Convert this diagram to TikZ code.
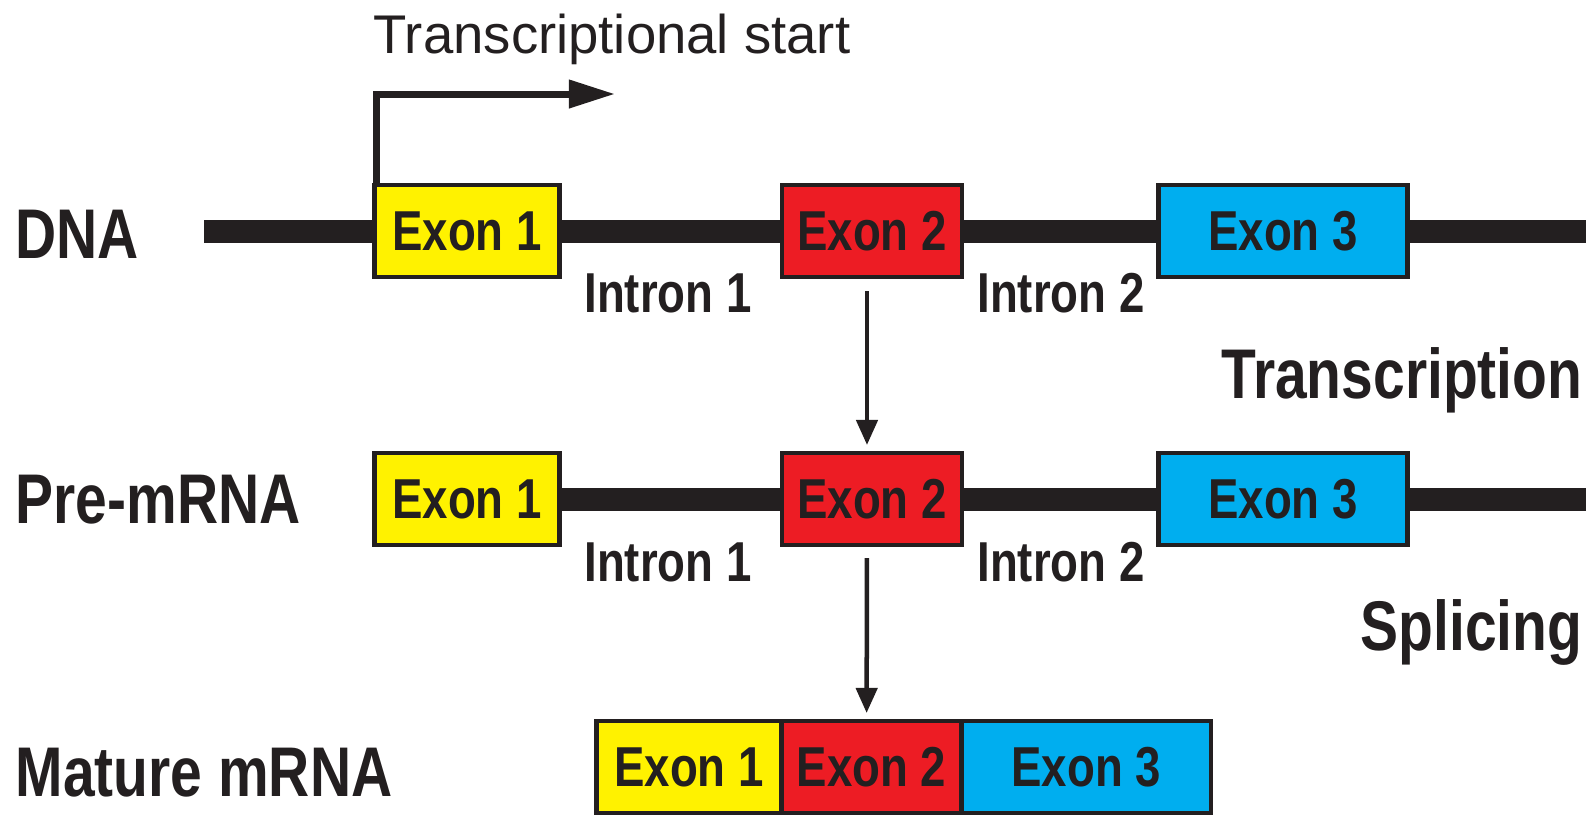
\documentclass[tikz,border=0pt]{standalone}
\usepackage{fontspec}
\setmainfont{Liberation Sans}
\newfontfamily\condfont{Liberation Sans}[FakeStretch=0.81]
\usetikzlibrary{arrows.meta, positioning}
\definecolor{ink}{HTML}{231F20}
\definecolor{exonyellow}{HTML}{FFF200}
\definecolor{exonred}{HTML}{ED1C24}
\definecolor{exonblue}{HTML}{00AEEF}

\begin{document}
\begin{tikzpicture}[
                x = 0.01cm, y = -0.01cm,
                exon/.style = {draw=ink, line width=0.045cm, minimum height=0.92cm, inner sep=0pt, outer sep=0pt,
                               text=ink, font=\condfont\bfseries\fontsize{16pt}{18pt}\selectfont},
                exonA/.style = {exon, fill=exonyellow, minimum width=1.85cm},
                exonB/.style = {exon, fill=exonred, minimum width=1.80cm},
                exonC/.style = {exon, fill=exonblue, minimum width=2.49cm},
                intron/.style = {anchor=base, inner sep=0pt, text=ink, font=\condfont\bfseries\fontsize{16pt}{18pt}\selectfont},
                stage/.style = {inner sep=0pt, text=ink, font=\condfont\bfseries\fontsize{20pt}{23pt}\selectfont},
                strand/.style = {ink, line width=0.23cm},
                flow/.style = {-{Triangle[length=0.25cm, width=0.21cm]}, ink, line width=0.045cm},
                tssarrow/.style = {-{Triangle[length=0.46cm, width=0.27cm]}, ink, line width=0.07cm}
              ]
              \useasboundingbox (0,0) rectangle (1596,814);
              % DNA
              \node[exonA] (d1) at (467,231) {Exon 1};
              \node[exonB] (d2) at (872,231) {Exon 2};
              \node[exonC] (d3) at (1283,231) {Exon 3};
              \coordinate (dnaL) at (204,231);
              \coordinate (dnaR) at (1586,231);
              \draw[strand] (dnaL) -- (d1) (d1) -- (d2) (d2) -- (d3) (d3) -- (dnaR);
              \node[intron] (di1) at (668,312) {Intron 1};
              \node[intron] (di2) at (1061,312) {Intron 2};
              % transcription start site
              \coordinate (tss) at (615,94);
              \draw[tssarrow] ([xshift=0.025cm]d1.north west) |- (tss);
              \node[anchor=base west, inner sep=0pt, text=ink, font=\fontsize{15.5pt}{18pt}\selectfont] (tsslabel) at (373,53) {Transcriptional start};
              % Pre-mRNA
              \node[exonA] (p1) at (467,499) {Exon 1};
              \node[exonB] (p2) at (872,499) {Exon 2};
              \node[exonC] (p3) at (1283,499) {Exon 3};
              \coordinate (preR) at (1586,499);
              \draw[strand] (p1) -- (p2) (p2) -- (p3) (p3) -- (preR);
              \node[intron] (pi1) at (668,581) {Intron 1};
              \node[intron] (pi2) at (1061,581) {Intron 2};
              % Mature mRNA
              \node[exonA] (m1) at (689,767) {Exon 1};
              \node[exonB, right=0pt of m1] (m2) {Exon 2};
              \node[exonC, right=0pt of m2] (m3) {Exon 3};
              % Row labels
              \node[stage, anchor=base west] (dna) at (15,258) {DNA};
              \node[stage, anchor=base west] (pre) at (15,523) {Pre-mRNA};
              \node[stage, anchor=base west] (mature) at (15,796) {Mature mRNA};
              \node[stage, anchor=base east] (transcription) at (1583,398) {Transcription};
              \node[stage, anchor=base east] (splicing) at (1583,650) {Splicing};
              % Steps
              \draw[flow, shorten <=0.14cm, shorten >=0.08cm] ([xshift=-0.05cm]d2.south) -- ([xshift=-0.05cm]p2.north);
              \draw[flow, shorten <=0.13cm, shorten >=0.08cm] ([xshift=-0.05cm]p2.south) -- ([xshift=-0.05cm]m2.north);
            \end{tikzpicture}
\end{document}
